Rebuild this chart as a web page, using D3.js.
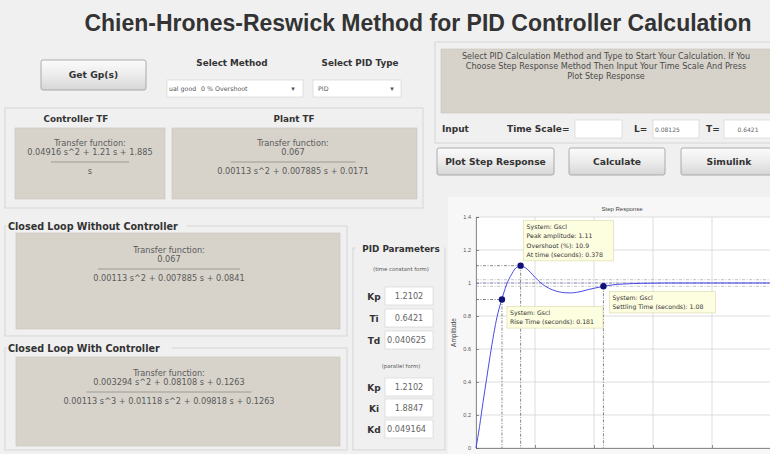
<!DOCTYPE html>
<html><head><meta charset="utf-8">
<script src="https://cdn.jsdelivr.net/npm/d3@7"></script>
<style>
body{margin:0;background:#f0f0f0;overflow:hidden}
svg{display:block;font-family:"DejaVu Sans",sans-serif}
</style>
</head><body>
<svg id="c" width="770" height="454"></svg>
<script>
// ---------- data ----------
const timeS = [0, 0.03, 0.06, 0.09, 0.12, 0.15, 0.18, 0.21, 0.24, 0.27, 0.30, 0.33, 0.36, 0.378, 0.40, 0.44, 0.48, 0.52, 0.56, 0.60, 0.65, 0.70, 0.75, 0.80, 0.85, 0.90, 0.95, 1.00, 1.08, 1.15, 1.25, 1.40, 1.60, 1.80, 2.00, 2.50, 3.00];
const amplitude = [0, 0.13, 0.28, 0.42, 0.56, 0.69, 0.80, 0.88, 0.95, 1.01, 1.05, 1.085, 1.10, 1.105, 1.10, 1.08, 1.05, 1.02, 0.995, 0.975, 0.958, 0.947, 0.941, 0.940, 0.943, 0.950, 0.960, 0.968, 0.980, 0.988, 0.994, 0.998, 1.0, 1.0, 1.0, 1.0, 1.0];
const yTickValues = [0, 0.2, 0.4, 0.6, 0.8, 1, 1.2, 1.4];
const xTickValues = [0, 0.5, 1, 1.5, 2, 2.5, 3];
const riseMarker = [0.22, 0.9];
const peakMarker = [0.378, 1.105];
const settleMarker = [1.08, 0.98];
const settleBand = [0.98, 1.0, 1.02];
const peakTip = ["System: Gscl", "Peak amplitude: 1.11", "Overshoot (%): 10.9", "At time (seconds): 0.378"];
const riseTip = ["System: Gscl", "Rise Time (seconds): 0.181"];
const settleTip = ["System: Gscl", "Settling Time (seconds): 1.08"];
const timeConstForm = [["Kp", "1.2102"], ["Ti", "0.6421"], ["Td", "0.040625"]];
const parallelForm = [["Kp", "1.2102"], ["Ki", "1.8847"], ["Kd", "0.049164"]];
const infoText = ["Select PID Calculation Method and Type to Start Your Calculation. If You",
                  "Choose Step Response Method Then Input Your Time Scale And Press",
                  "Plot Step Response"];

// ---------- helpers ----------
const svg = d3.select("#c");
const defs = svg.append("defs");
const g1 = defs.append("linearGradient").attr("id","btn").attr("x1",0).attr("y1",0).attr("x2",0).attr("y2",1);
g1.append("stop").attr("offset","0").attr("stop-color","#fbfbfb");
g1.append("stop").attr("offset","0.5").attr("stop-color","#ececec");
g1.append("stop").attr("offset","1").attr("stop-color","#d6d6d6");
let clipN = 0;

function txt(x,y,s,opt={}){
  return svg.append("text").attr("x",x).attr("y",y).text(s)
    .attr("font-size",opt.size||8).attr("font-weight",opt.bold?"bold":null)
    .attr("text-anchor",opt.anchor||"start").attr("fill",opt.fill||"#222");
}
function button(x,y,w,h,label){
  svg.append("rect").attr("x",x).attr("y",y).attr("width",w).attr("height",h).attr("rx",2)
    .attr("fill","url(#btn)").attr("stroke","#9a9a9a").attr("stroke-width",0.8);
  txt(x+w/2,y+h/2+3.3,label,{size:9.2,bold:true,anchor:"middle",fill:"#333"});
}
function grayBox(x,y,w,h){
  svg.append("rect").attr("x",x).attr("y",y).attr("width",w).attr("height",h)
    .attr("fill","#d7d3cb").attr("stroke","#c8c4bc").attr("stroke-width",0.6);
}
function whiteBox(x,y,w,h){
  svg.append("rect").attr("x",x).attr("y",y).attr("width",w).attr("height",h)
    .attr("fill","#fff").attr("stroke","#cfcfcf").attr("stroke-width",0.6);
}
function valueBox(x,y,w,h,val,size){
  whiteBox(x,y,w,h);
  const id = "cl"+(clipN++);
  defs.append("clipPath").attr("id",id).append("rect").attr("x",x+1).attr("y",y).attr("width",w-2).attr("height",h);
  const long = val.length > 6;
  txt(long ? x+2 : x+w/2, y+h/2+3, val, {size:size, anchor: long ? "start" : "middle", fill:"#666"})
    .attr("clip-path",`url(#${id})`);
}
function frame(x,y,w,h){
  svg.append("rect").attr("x",x).attr("y",y).attr("width",w).attr("height",h)
    .attr("fill","none").attr("stroke","#d2d2d2").attr("stroke-width",0.9);
}
function tf(cx,y,num,den,lineW){
  const o = {size:8.2,anchor:"middle",fill:"#5a5a5a"};
  txt(cx,y,"Transfer function:",o);
  txt(cx,y+9,num,o);
  svg.append("line").attr("x1",cx-lineW/2).attr("x2",cx+lineW/2).attr("y1",y+16).attr("y2",y+16)
    .attr("stroke","#777").attr("stroke-width",0.6);
  txt(cx,y+28,den,o);
}

// ---------- header ----------
txt(418,31,"Chien-Hrones-Reswick Method for PID Controller Calculation",{size:23,bold:true,anchor:"middle",fill:"#333"})
  .attr("font-family","Liberation Sans, Arial, sans-serif");
button(41,60,105,30,"Get Gp(s)");
txt(232,66,"Select Method",{size:8.8,bold:true,anchor:"middle",fill:"#333"});
txt(360,66,"Select PID Type",{size:8.8,bold:true,anchor:"middle",fill:"#333"});
// dropdowns
whiteBox(167,80,136,17);
txt(169,91,"ual good",{size:6.3,fill:"#555"});
txt(201,91,"0 % Overshoot",{size:6.3,fill:"#555"});
txt(293,91,"▾",{size:7,anchor:"middle",fill:"#555"});
whiteBox(313,80,88,17);
txt(318,91,"PID",{size:6.3,fill:"#555"});
txt(392,91,"▾",{size:7,anchor:"middle",fill:"#555"});

// ---------- TF panel ----------
frame(5,108,418,100);
txt(76,122,"Controller TF",{size:8.8,bold:true,anchor:"middle",fill:"#333"});
txt(294,122,"Plant TF",{size:8.8,bold:true,anchor:"middle",fill:"#333"});
grayBox(15,128,150,71);
grayBox(172,128,245,71);
tf(90,146,"0.04916 s^2 + 1.21 s + 1.885","s",78);
tf(293,146,"0.067","0.00113 s^2 + 0.007885 s + 0.0171",125);

// ---------- right controls ----------
frame(435,42,345,101);
grayBox(441,49,336,64);
infoText.forEach((s,i)=>txt(606,59+i*10,s,{size:8.1,anchor:"middle",fill:"#4a4a4a"}));
txt(442,132,"Input",{size:9,bold:true,fill:"#333"});
txt(507,132,"Time Scale=",{size:9,bold:true,fill:"#333"});
whiteBox(575,120,47,18);
txt(634,132,"L=",{size:9,bold:true,fill:"#333"});
valueBox(653,120,46,18,"0.08125",6);
txt(706,132,"T=",{size:9,bold:true,fill:"#333"});
valueBox(724,120,48,18,"0.6421",6);
button(437,148,117,27,"Plot Step Response");
button(569,148,96,27,"Calculate");
button(681,148,96,27,"Simulink");

// ---------- closed loop panels ----------
frame(5,226,342,110);
svg.append("rect").attr("x",7).attr("y",220).attr("width",180).attr("height",12).attr("fill","#f0f0f0");
txt(8,230,"Closed Loop Without Controller",{size:9.6,bold:true,fill:"#333"});
grayBox(16,233,324,96);
tf(169,253,"0.067","0.00113 s^2 + 0.007885 s + 0.0841",142);

frame(5,348,342,102);
svg.append("rect").attr("x",7).attr("y",342).attr("width",165).attr("height",12).attr("fill","#f0f0f0");
txt(8,352,"Closed Loop With Controller",{size:9.6,bold:true,fill:"#333"});
grayBox(16,357,324,89);
tf(169,376,"0.003294 s^2 + 0.08108 s + 0.1263","0.00113 s^3 + 0.01118 s^2 + 0.09818 s + 0.1263",165);

// ---------- PID parameters ----------
frame(353,248,92,202);
svg.append("rect").attr("x",356).attr("y",242).attr("width",88).attr("height",12).attr("fill","#f0f0f0");
txt(401,252,"PID Parameters",{size:8.8,bold:true,anchor:"middle",fill:"#333"});
txt(401,271,"(time constant form)",{size:5.4,anchor:"middle",fill:"#555"});
timeConstForm.forEach((d,i)=>{
  const y = 296 + i*22;
  txt(374,y+3.5,d[0],{size:9,bold:true,anchor:"middle",fill:"#333"});
  valueBox(385,y-9,48,18,d[1],8.2);
});
txt(401,368,"(parallel form)",{size:5.4,anchor:"middle",fill:"#555"});
parallelForm.forEach((d,i)=>{
  const y = 387 + i*21;
  txt(374,y+3.5,d[0],{size:9,bold:true,anchor:"middle",fill:"#333"});
  valueBox(385,y-9,48,18,d[1],8.2);
});

// ---------- step response plot ----------
svg.append("rect").attr("x",448).attr("y",197).attr("width",330).attr("height",260).attr("fill","#f7f7f7");
const x = d3.scaleLinear().domain([0,3]).range([476, 830]);
const y = d3.scaleLinear().domain([0,1.4]).range([448, 217]);
const plot = svg.append("g");
plot.append("rect").attr("x",x(0)).attr("y",y(1.4)).attr("width",x(3)-x(0)).attr("height",y(0)-y(1.4)).attr("fill","#fff");
// grid
plot.selectAll(".gx").data(xTickValues).join("line")
  .attr("x1",d=>x(d)).attr("x2",d=>x(d)).attr("y1",y(0)).attr("y2",y(1.4))
  .attr("stroke","#d4d4d4").attr("stroke-width",0.8);
plot.selectAll(".gy").data(yTickValues).join("line")
  .attr("x1",x(0)).attr("x2",x(3)).attr("y1",d=>y(d)).attr("y2",d=>y(d))
  .attr("stroke","#d4d4d4").attr("stroke-width",0.8);
// axes (x tick labels fall below the visible window, as in the reference)
const ax = plot.append("g").attr("transform",`translate(0,${y(0)})`)
  .call(d3.axisBottom(x).tickValues(xTickValues).tickSize(-3).tickFormat(""));
const ay = plot.append("g").attr("transform",`translate(${x(0)},0)`)
  .call(d3.axisLeft(y).tickValues(yTickValues).tickSize(-3).tickPadding(5).tickFormat(d3.format("")));
[ax,ay].forEach(a=>{
  a.selectAll("path,line").attr("stroke","#666").attr("stroke-width",0.7);
  a.selectAll("text").attr("font-size",5.5).attr("fill","#555").attr("font-family","Liberation Sans, Arial");
});
txt(622,211,"Step Response",{size:6,anchor:"middle",fill:"#444"}).attr("font-family","Liberation Sans, Arial");
svg.append("text").attr("transform",`translate(456,${(y(0)+y(1.4))/2}) rotate(-90)`).text("Amplitude")
  .attr("font-size",6.5).attr("text-anchor","middle").attr("fill","#444").attr("font-family","Liberation Sans, Arial");

// characteristic lines
const dash = {"stroke":"#555","stroke-width":0.7,"stroke-dasharray":"3,1.5,1,1.5"};
function dline(x1,y1,x2,y2,st=dash){
  const l = plot.append("line").attr("x1",x1).attr("y1",y1).attr("x2",x2).attr("y2",y2);
  Object.entries(st).forEach(([k,v])=>l.attr(k,v));
}
settleBand.forEach(v=>dline(x(0),y(v),x(3),y(v),{"stroke":v===1?"#8080c0":"#9a9a9a","stroke-width":v===1?0.9:0.6,"stroke-dasharray":"3,1.5,1,1.5"}));
dline(x(0),y(peakMarker[1]),x(peakMarker[0]),y(peakMarker[1]));
dline(x(peakMarker[0]),y(peakMarker[1]),x(peakMarker[0]),y(0));
dline(x(0),y(riseMarker[1]),x(riseMarker[0]),y(riseMarker[1]));
dline(x(riseMarker[0]),y(riseMarker[1]),x(riseMarker[0]),y(0));
dline(x(settleMarker[0]),y(settleMarker[1]),x(settleMarker[0]),y(0));

// response curve
const line = d3.line().x((d,i)=>x(timeS[i])).y(d=>y(d)).curve(d3.curveMonotoneX);
plot.append("path").attr("d",line(amplitude)).attr("fill","none").attr("stroke","#4a4ae6").attr("stroke-width",1);

// markers
[riseMarker,peakMarker,settleMarker].forEach(m=>{
  plot.append("circle").attr("cx",x(m[0])).attr("cy",y(m[1])).attr("r",3.2).attr("fill","#10107a");
});

// data tips
function tip(bx,by,lines,w){
  const h = lines.length*9.3+3;
  plot.append("rect").attr("x",bx).attr("y",by).attr("width",w).attr("height",h)
    .attr("fill","#fdfde0").attr("stroke","#d8d8a8").attr("stroke-width",0.6);
  lines.forEach((s,i)=>txt(bx+3,by+8.5+i*9.3,s,{size:6.2,fill:"#333"}));
}
tip(x(peakMarker[0])+3,y(peakMarker[1])-45,peakTip,90);
tip(x(riseMarker[0])+5,y(riseMarker[1])+7,riseTip,96);
tip(x(settleMarker[0])+6,y(settleMarker[1])+5,settleTip,106);
</script>
</body></html>
